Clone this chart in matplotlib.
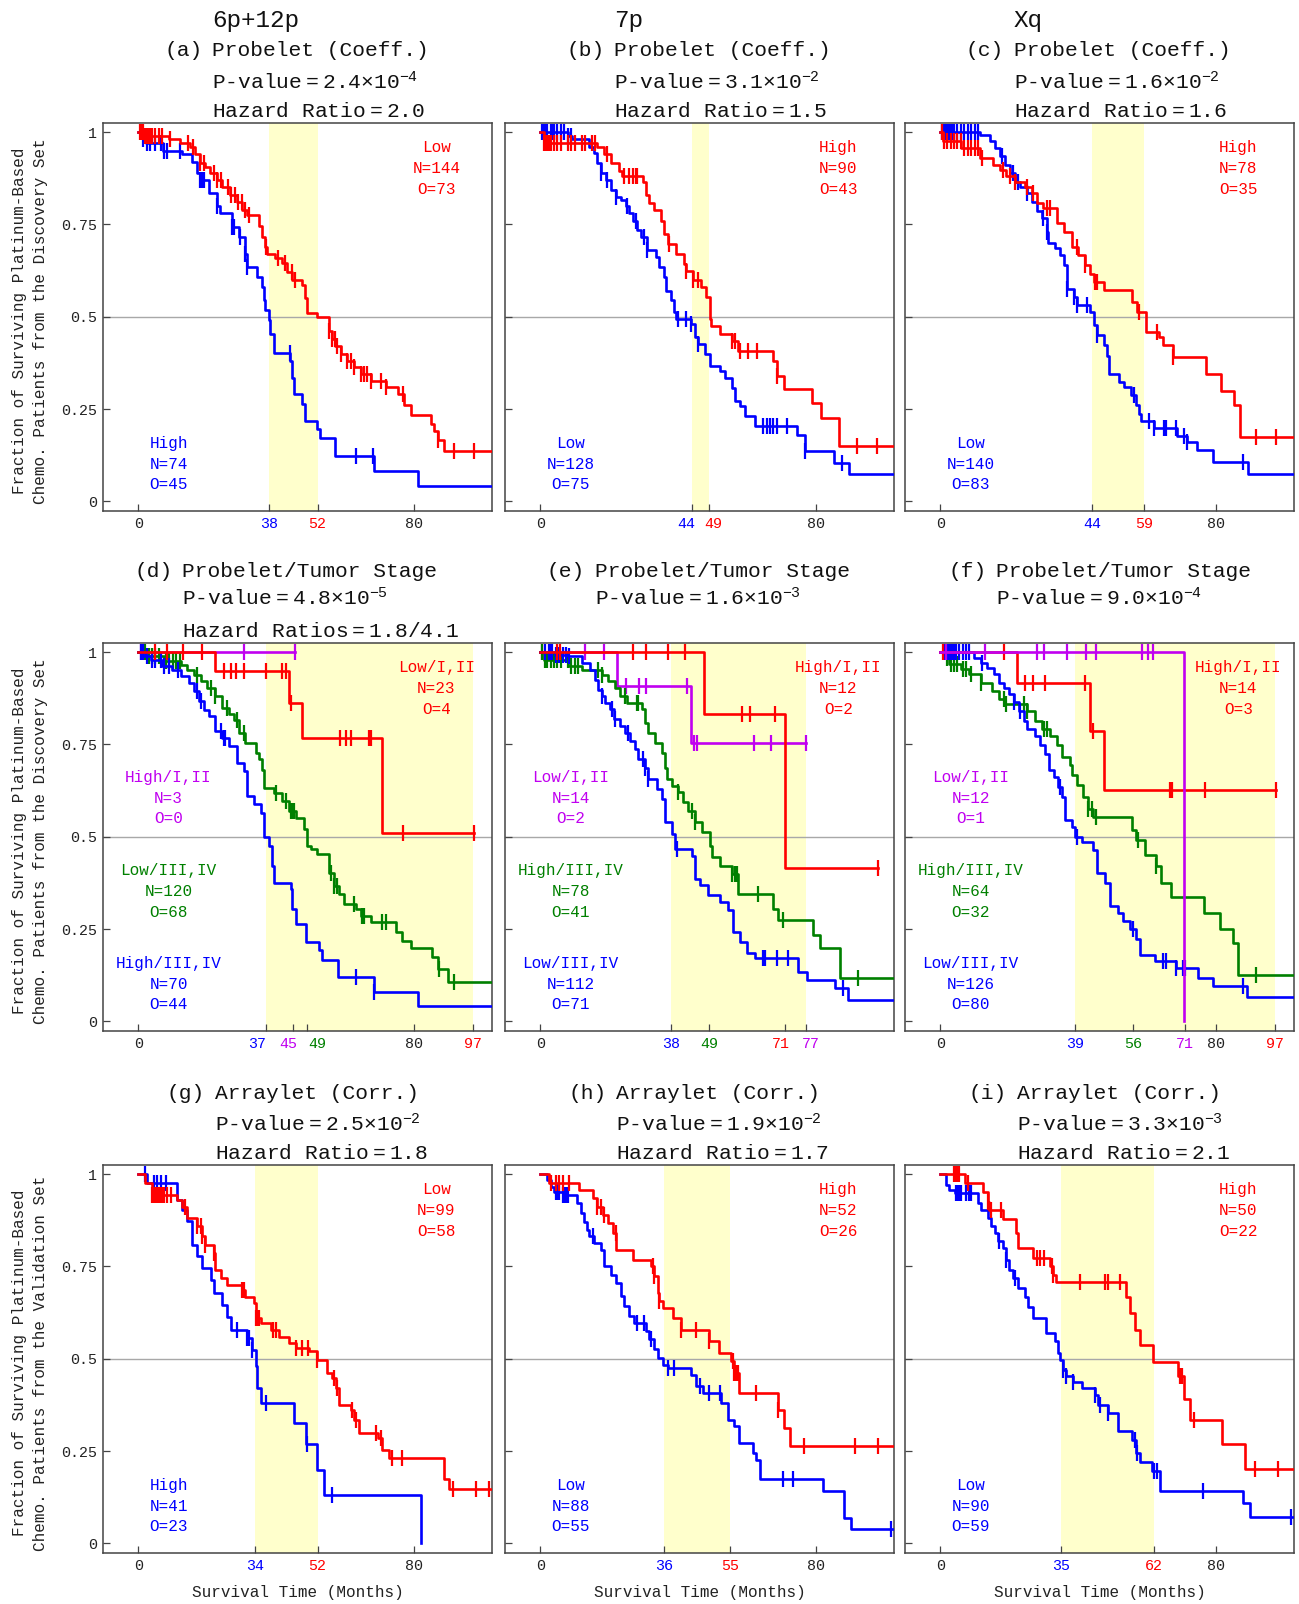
import numpy as np
import matplotlib.pyplot as plt

plt.rcParams["font.family"] = ["Liberation Mono", "DejaVu Sans"]
plt.rcParams["mathtext.default"] = "regular"

W, H = 1299, 1604
RED, BLUE, GREEN, MAGENTA = "#ff0000", "#0000ff", "#008000", "#c000f0"

# ---------------- survival curves: drop times, levels after drop, censor times, end
A_LOW_T = [2, 9, 12.1, 15.0, 16.5, 17.9, 19.4, 20.8, 22.8, 24.2, 26.7, 28.6, 30.1, 31.5, 34.9, 35.9, 36.8, 37.3,
           39.8, 41.7, 43.2, 44.6, 47.5, 48.5, 49.0, 51.9, 55.3, 56.2, 57.2, 58.7, 60.6, 62.5, 64.5, 67.4, 71.8,
           75.2, 77.1, 79.0, 84.8, 85.8, 86.8, 88.7]
A_LOW_S = [0.99, 0.98, 0.97, 0.96, 0.94, 0.915, 0.905, 0.89, 0.87, 0.85, 0.83, 0.81, 0.79, 0.775, 0.745, 0.715,
           0.69, 0.67, 0.66, 0.645, 0.62, 0.60, 0.585, 0.55, 0.51, 0.50, 0.46, 0.44, 0.42, 0.40, 0.38, 0.365,
           0.345, 0.325, 0.31, 0.29, 0.26, 0.235, 0.21, 0.19, 0.165, 0.136]
A_LOW_C = [0.5, 1, 1.5, 2, 2.5, 3, 3.5, 4, 5, 6, 7, 9.2, 14.5, 16, 18, 19, 22, 23, 24, 26, 27, 28, 29, 30, 31, 32,
           37, 40.5, 42.5, 44.5, 45.5, 55.3, 56.2, 57, 57.7, 58.7, 60.6, 61.6, 62.5, 64.5, 65.5, 66.4, 67.4,
           70.3, 71.8, 76.7, 86.8, 91.6, 97.4]
A_HIGH_T = [1.5, 2.4, 7.3, 12.6, 15.5, 17.0, 18.0, 20.4, 22.8, 23.8, 27.2, 29.1, 31.0, 31.5, 34.4, 35.9, 36.4,
            36.8, 37.8, 38.3, 39.3, 44.1, 44.6, 45.1, 47.5, 48.5, 51.9, 52.8, 57.2, 68.4, 81.0]
A_HIGH_S = [0.98, 0.97, 0.95, 0.94, 0.92, 0.89, 0.87, 0.835, 0.80, 0.78, 0.743, 0.716, 0.67, 0.635, 0.607, 0.58,
            0.544, 0.517, 0.49, 0.453, 0.403, 0.38, 0.335, 0.29, 0.263, 0.218, 0.195, 0.172, 0.122, 0.082, 0.041]
A_HIGH_C = [1.5, 2.5, 3.5, 5, 6.5, 7.5, 8.5, 12, 18, 18.5, 19, 22.8, 27.2, 27.7, 29.6, 31, 31.5, 44, 63.1, 68.2]

B_HIGH_T = [1, 16.5, 18.5, 20.4, 22.9, 23.8, 29.7, 30.7, 31.6, 33.1, 35.0, 36.0, 37.0, 39.4, 41.8, 42.3, 44.3,
            46.7, 48.2, 49.2, 49.6, 52.1, 55.5, 57.4, 67.6, 68.6, 70.6, 78.8, 81.3, 86.6]
B_HIGH_S = [0.97, 0.96, 0.94, 0.915, 0.895, 0.88, 0.865, 0.83, 0.807, 0.79, 0.76, 0.725, 0.698, 0.67, 0.644,
            0.625, 0.60, 0.58, 0.553, 0.494, 0.476, 0.453, 0.435, 0.408, 0.38, 0.34, 0.304, 0.267, 0.227, 0.15]
B_HIGH_C = [1, 1.5, 2, 2.5, 3, 4, 5, 6, 8, 9, 10, 12, 13, 15, 16, 19.3, 24.3, 25.8, 26.8, 27.7, 28.2, 37.5,
            42.3, 44.3, 45.7, 55.5, 56.4, 57.9, 60.4, 62.8, 68.6, 92, 97.8]
B_LOW_T = [8, 9.2, 14.1, 15.6, 16.5, 17.5, 19.0, 20.4, 21.9, 23.4, 24.8, 25.8, 26.8, 28.2, 29.2, 31.1, 33.6,
           34.5, 36.0, 36.5, 37.9, 38.9, 39.4, 43.8, 44.8, 45.7, 47.7, 49.1, 52.1, 53.5, 55.5, 56.4, 57.9, 59.4,
           62.3, 74.5, 76.9, 85.2, 89.5]
B_LOW_S = [0.99, 0.98, 0.96, 0.943, 0.915, 0.89, 0.87, 0.843, 0.825, 0.816, 0.80, 0.78, 0.76, 0.734, 0.716,
           0.68, 0.662, 0.635, 0.607, 0.57, 0.544, 0.512, 0.494, 0.48, 0.444, 0.426, 0.40, 0.367, 0.354, 0.335,
           0.308, 0.272, 0.258, 0.231, 0.204, 0.181, 0.136, 0.104, 0.073]
B_LOW_C = [0.5, 1, 1.5, 2, 3, 3.5, 4, 5, 6, 7, 8, 9, 17.5, 19.5, 21.9, 25.3, 27.7, 30.2, 31.1, 39.9, 42.3,
           43.8, 45.7, 64.7, 65.7, 66.7, 67.6, 68.6, 71.5, 76.9, 87.6]

C_HIGH_T = [0.8, 6.1, 11.5, 15.4, 17.3, 19.2, 21.7, 24.6, 26.5, 28.0, 29.9, 33.8, 35.8, 38.2, 40.1, 42.1, 43.5,
            44.5, 47.4, 55.7, 57.1, 59.6, 63.5, 64.5, 67.4, 77.1, 81.4, 85.3, 86.8]
C_HIGH_S = [0.975, 0.957, 0.93, 0.911, 0.897, 0.88, 0.866, 0.852, 0.834, 0.807, 0.794, 0.753, 0.73, 0.69, 0.667,
            0.64, 0.617, 0.595, 0.572, 0.54, 0.513, 0.459, 0.445, 0.423, 0.391, 0.346, 0.30, 0.26, 0.174]
C_HIGH_C = [0.5, 1, 2, 3, 4, 5, 6, 7, 8, 9, 10, 11, 12, 18.3, 20.2, 21.7, 25.1, 27, 30.9, 31.9, 39.6, 42.1, 45,
            45.5, 57.6, 63, 67.4, 91.6, 97.5]
C_LOW_T = [11.5, 14.4, 15.8, 17.3, 18.8, 20.2, 21.7, 23.1, 25.1, 26.5, 28.0, 29.4, 30.9, 31.4, 33.3, 34.8, 35.8,
           36.7, 38.7, 39.6, 43.5, 44.5, 45.5, 47.4, 48.4, 48.9, 51.8, 53.3, 55.2, 56.7, 57.6, 58.1, 62.0, 68.8,
           71.7, 74.6, 79.0, 89.2]
C_LOW_S = [0.993, 0.975, 0.957, 0.934, 0.911, 0.889, 0.866, 0.852, 0.834, 0.81, 0.785, 0.767, 0.73, 0.70, 0.685,
           0.667, 0.64, 0.576, 0.554, 0.531, 0.513, 0.477, 0.45, 0.423, 0.395, 0.346, 0.323, 0.31, 0.287, 0.26,
           0.237, 0.219, 0.20, 0.178, 0.16, 0.138, 0.106, 0.074]
C_LOW_C = [0.5, 1, 1.5, 2, 2.5, 3, 3.5, 4, 5, 6, 7, 8, 9, 10, 11, 17.8, 21.2, 22.6, 25.1, 29.9, 30.9, 36.7, 38.7,
           39.6, 42.6, 45.5, 56.2, 60.6, 62, 64.9, 65.4, 68.3, 70.7, 71.7, 87.8]

D_LO12_T = [22.4, 43.7, 47.6, 70.8]
D_LO12_S = [0.948, 0.862, 0.766, 0.511]
D_LO12_C = [5, 8.5, 13, 18.6, 24.9, 26.8, 28.3, 30.7, 37, 41.8, 42.8, 44.4, 58.5, 60.2, 61.6, 66.9, 67.6, 76.9, 97.4]
D_HI12_T = []
D_HI12_S = []
D_HI12_C = [0.7, 30.7, 45.5]
D_LO34_T = [2.6, 7.4, 12.3, 14.2, 16.2, 18.1, 20.0, 22.4, 24.4, 26.3, 27.8, 29.2, 31.1, 34.1, 35.0, 36.0, 36.5,
            39.4, 41.8, 43.7, 45.7, 48.1, 49.0, 50.0, 51.9, 55.3, 56.8, 58.2, 59.7, 63.1, 64.5, 67.4, 74.7, 76.6,
            79.0, 85.3, 86.8, 89.7]
D_LO34_S = [0.988, 0.975, 0.966, 0.952, 0.939, 0.921, 0.903, 0.88, 0.849, 0.831, 0.817, 0.781, 0.754, 0.727,
            0.71, 0.682, 0.633, 0.619, 0.597, 0.57, 0.552, 0.52, 0.475, 0.466, 0.453, 0.403, 0.367, 0.345, 0.318,
            0.304, 0.286, 0.268, 0.241, 0.219, 0.20, 0.174, 0.142, 0.106]
D_LO34_C = [1, 2, 3, 4, 5, 6, 8, 9, 10, 11, 12, 17.1, 21, 22.4, 25.8, 28.7, 30.7, 39.9, 42.8, 44.2, 44.7, 45.2,
            55.8, 56.8, 57.7, 62.6, 65, 65.5, 70.8, 71.8, 87.3, 91.6]
D_HI34_T = [1.6, 3.6, 7.0, 9.9, 12.3, 14.7, 16.2, 17.6, 19.1, 20.5, 22.4, 24.4, 26.3, 28.7, 30.7, 31.6, 33.6,
            35.5, 36.5, 37.9, 38.9, 39.4, 44.2, 44.7, 45.7, 48.6, 52.4, 53.4, 57.8, 68.4, 81.0]
D_HI34_S = [0.988, 0.979, 0.961, 0.952, 0.934, 0.916, 0.894, 0.867, 0.844, 0.826, 0.786, 0.768, 0.745, 0.70,
            0.678, 0.61, 0.588, 0.565, 0.498, 0.475, 0.421, 0.376, 0.358, 0.304, 0.264, 0.214, 0.192, 0.165,
            0.12, 0.079, 0.041]
D_HI34_C = [0.7, 1.5, 2.5, 4, 5, 6.5, 7.5, 9, 11.5, 17.1, 18.1, 23.9, 24.8, 25.3, 63.1, 68.4]

E_HI12_T = [47.6, 71.0]
E_HI12_S = [0.831, 0.416]
E_HI12_C = [4.8, 5.8, 27, 30.7, 37.2, 42, 58.6, 60.9, 68.1, 97.9]
E_LO12_T = [22.2, 43.8]
E_LO12_S = [0.907, 0.755]
E_LO12_C = [0.5, 13, 18.5, 24.8, 28.7, 30.7, 42.7, 44.6, 45.4, 62.1, 67, 77.1]
E_HI34_T = [1.0, 8.2, 12.1, 17.9, 19.8, 21.7, 23.2, 25.1, 29.5, 30.4, 31.4, 33.3, 35.3, 36.2, 36.7, 38.2, 40.1,
            41.5, 43.0, 44.9, 46.9, 49.3, 49.8, 52.2, 55.6, 57.5, 67.6, 69.1, 79.2, 81.2, 87.0]
E_HI34_S = [0.979, 0.961, 0.952, 0.939, 0.921, 0.903, 0.881, 0.863, 0.845, 0.809, 0.782, 0.755, 0.728, 0.687,
            0.656, 0.638, 0.62, 0.593, 0.57, 0.539, 0.512, 0.476, 0.445, 0.422, 0.40, 0.346, 0.305, 0.274, 0.234,
            0.198, 0.117]
E_HI34_C = [0.5, 1.5, 2, 3, 4, 5, 6, 8, 9, 10, 11, 16.9, 17.9, 24.6, 28, 28.5, 40.1, 44, 44.9, 55.6, 56.5, 57,
            63.3, 70.5, 92.1]
E_LO34_T = [4.3, 8.2, 12.1, 14.5, 15.9, 16.9, 17.9, 18.8, 20.3, 21.3, 23.2, 24.6, 26.1, 27.5, 28.5, 30.4, 31.4,
            33.8, 35.3, 36.2, 38.2, 39.1, 43.9, 44.9, 46.4, 48.8, 52.2, 54.6, 56.0, 58.0, 59.9, 62.3, 74.9, 77.3,
            85.5, 89.4]
E_LO34_S = [0.993, 0.988, 0.97, 0.952, 0.925, 0.898, 0.88, 0.863, 0.845, 0.818, 0.80, 0.782, 0.76, 0.737, 0.71,
            0.687, 0.656, 0.629, 0.602, 0.539, 0.508, 0.467, 0.449, 0.386, 0.368, 0.341, 0.323, 0.301, 0.243,
            0.216, 0.184, 0.171, 0.135, 0.112, 0.09, 0.058]
E_LO34_C = [1.5, 2.5, 3, 3.5, 4.5, 5.5, 6.5, 7.5, 8.5, 17.9, 20.8, 21.8, 25.6, 29.9, 30.4, 31.4, 39.6, 64.7, 65.2,
            68.6, 72, 87.9]

F_LO12_T = [70.6]
F_LO12_S = [0.0]
F_LO12_C = [1.6, 13, 28.1, 30, 36.9, 42.3, 45.2, 58.4, 60.3, 61.7]
F_HI12_T = [22.3, 43.5, 47.5]
F_HI12_S = [0.917, 0.787, 0.627]
F_HI12_C = [0.7, 18.5, 24.7, 26.8, 30.5, 42, 44.2, 66.5, 67.3, 76.7, 97.3]
F_HI34_T = [1.2, 2.6, 6.0, 8.4, 11.7, 15.1, 17.0, 18.9, 25.2, 27.6, 29.5, 31.9, 33.8, 35.3, 37.7, 38.2, 39.6,
            41.5, 43.0, 44.4, 55.5, 56.9, 59.3, 62.7, 64.1, 67.0, 76.6, 81.0, 84.8, 86.3]
F_HI34_S = [0.985, 0.967, 0.953, 0.94, 0.917, 0.895, 0.873, 0.859, 0.841, 0.814, 0.792, 0.774, 0.747, 0.715,
            0.693, 0.666, 0.639, 0.607, 0.576, 0.554, 0.518, 0.492, 0.451, 0.42, 0.375, 0.337, 0.294, 0.251,
            0.211, 0.125]
F_HI34_C = [1, 2, 3, 4, 5, 6.5, 7.5, 9, 11.7, 18.5, 19, 24.2, 25.2, 30, 31, 43, 44, 45.2, 57.4, 62.7, 91.5]
F_LO34_T = [9.8, 11.7, 13.7, 15.6, 17.0, 18.5, 19.9, 21.3, 22.8, 24.2, 25.2, 27.6, 29.0, 30.5, 31.5, 32.9, 34.3,
            35.3, 36.3, 38.2, 39.1, 41.1, 44.4, 45.4, 47.8, 49.2, 51.6, 53.0, 55.0, 56.9, 57.9, 62.2, 68.5, 74.7,
            79.0, 89.1]
F_LO34_S = [0.985, 0.971, 0.958, 0.94, 0.917, 0.904, 0.886, 0.864, 0.841, 0.814, 0.792, 0.774, 0.747, 0.724,
            0.68, 0.662, 0.635, 0.608, 0.545, 0.527, 0.50, 0.487, 0.464, 0.402, 0.375, 0.312, 0.294, 0.271, 0.249,
            0.222, 0.181, 0.163, 0.145, 0.118, 0.096, 0.065]
F_LO34_C = [1, 2, 2.5, 3, 3.5, 4, 4.5, 5.5, 6.5, 7.5, 8.5, 12.2, 21.3, 23.2, 34.8, 39.6, 56, 64.6, 65.5, 68.5,
            70.4, 70.9, 87.7]

G_LOW_T = [2.1, 4.1, 11.3, 12.8, 14.2, 17.1, 18.6, 19.5, 21.9, 22.4, 23.9, 25.8, 30.2, 31.1, 33.6, 34.1, 35.5,
           38.4, 40.8, 43.7, 45.7, 49.5, 51.9, 54.8, 56.3, 57.3, 58.2, 61.6, 62.6, 64.1, 69.4, 70.8, 72.7, 88.7,
           90.2]
G_LOW_S = [0.975, 0.943, 0.93, 0.912, 0.88, 0.858, 0.831, 0.808, 0.786, 0.741, 0.719, 0.70, 0.686, 0.668, 0.65,
           0.61, 0.596, 0.578, 0.56, 0.542, 0.529, 0.52, 0.497, 0.461, 0.448, 0.42, 0.375, 0.362, 0.335, 0.299,
           0.286, 0.254, 0.232, 0.173, 0.146]
G_LOW_C = [4.1, 4.6, 5, 5.5, 6, 6.5, 7, 7.5, 8.5, 9.4, 13.7, 17.1, 18.1, 18.6, 19.5, 21.9, 30.2, 30.7, 34.1, 34.6,
           35.1, 39, 40, 45.7, 47.6, 49.1, 51.9, 56.8, 57.7, 62.1, 63.1, 68.9, 70.3, 73.7, 76.6, 91.2, 97.9, 101.8]
G_HIGH_T = [2.6, 11.3, 12.8, 14.2, 15.7, 17.1, 18.6, 21.0, 21.9, 24.4, 25.8, 26.8, 31.6, 33.1, 34.1, 34.5, 35.5,
            45.2, 48.6, 51.9, 53.9, 81.9]
G_HIGH_S = [0.975, 0.93, 0.903, 0.872, 0.808, 0.777, 0.745, 0.714, 0.677, 0.645, 0.614, 0.577, 0.555, 0.524,
            0.48, 0.42, 0.38, 0.326, 0.268, 0.20, 0.13, 0.0]
G_HIGH_C = [2.1, 4.6, 5.5, 6.5, 8.2, 28.7, 31.6, 32.1, 33.1, 37, 49, 56.1]

H_HIGH_T = [2.6, 11.3, 15.2, 16.6, 18.1, 19.6, 21.0, 22.0, 26.8, 32.1, 33.1, 34.1, 34.5, 35.5, 38.4, 40.8, 49.0,
            51.9, 55.3, 56.3, 57.7, 68.9, 70.8, 72.3]
H_HIGH_S = [0.977, 0.957, 0.934, 0.912, 0.889, 0.867, 0.84, 0.795, 0.768, 0.75, 0.723, 0.677, 0.655, 0.637,
            0.61, 0.578, 0.547, 0.515, 0.493, 0.461, 0.407, 0.362, 0.313, 0.263]
H_HIGH_C = [3, 4.5, 5.5, 6.5, 8.5, 16.6, 17.6, 18.6, 21.9, 32.6, 33.1, 34.5, 40.8, 45.2, 49, 55.8, 56.3, 56.8,
            57.3, 62.6, 68.9, 76.6, 91.4, 97.9]
H_LOW_T = [2.1, 3.1, 4.1, 6.5, 10.8, 11.8, 12.8, 13.7, 14.2, 15.7, 17.6, 18.6, 20.5, 22.0, 23.4, 24.4, 25.8,
           27.3, 30.7, 31.7, 33.1, 34.1, 35.5, 37.0, 43.7, 45.2, 47.1, 52.4, 54.4, 56.3, 57.7, 61.6, 62.6, 63.6,
           81.9, 88.2, 90.2]
H_LOW_S = [0.984, 0.966, 0.952, 0.943, 0.921, 0.894, 0.871, 0.849, 0.831, 0.813, 0.795, 0.75, 0.727, 0.705,
           0.669, 0.643, 0.616, 0.598, 0.575, 0.553, 0.526, 0.503, 0.484, 0.475, 0.457, 0.425, 0.407, 0.38,
           0.335, 0.317, 0.272, 0.245, 0.227, 0.175, 0.141, 0.069, 0.038]
H_LOW_C = [4.5, 5, 5.5, 6.5, 7, 7.5, 8.2, 15.2, 28.2, 30.2, 32.1, 37, 38.9, 46.2, 49, 52, 70.3, 73.2, 101.6]

I_HIGH_T = [7.1, 12.4, 13.8, 14.3, 18.2, 22.1, 22.6, 26.9, 31.8, 32.8, 33.7, 54.0, 55.0, 56.5, 57.9, 61.8, 69.1,
            70.6, 72.5, 81.6, 88.4]
I_HIGH_S = [0.977, 0.952, 0.925, 0.903, 0.877, 0.84, 0.80, 0.772, 0.75, 0.727, 0.709, 0.668, 0.623, 0.578,
            0.538, 0.491, 0.452, 0.39, 0.335, 0.268, 0.202]
I_HIGH_C = [4, 4.6, 5, 5.5, 8, 13.8, 14.8, 17.7, 28, 29, 30, 32.3, 32.8, 40.5, 47.7, 48.7, 52.2, 69.6, 70.1,
            73.7, 91.3, 98.1]
I_LOW_T = [1.7, 2.7, 4.2, 10.9, 11.9, 13.9, 14.8, 15.8, 16.8, 18.2, 19.2, 20.1, 21.1, 22.6, 24.5, 25.5, 26.9,
           30.8, 33.2, 34.2, 34.7, 35.6, 36.6, 38.5, 41.0, 44.8, 45.8, 48.7, 51.6, 55.5, 56.9, 57.9, 61.3, 63.7,
           87.9, 89.9]
I_LOW_S = [0.97, 0.957, 0.948, 0.921, 0.903, 0.88, 0.858, 0.84, 0.818, 0.80, 0.768, 0.741, 0.718, 0.691, 0.668,
           0.641, 0.61, 0.569, 0.547, 0.515, 0.497, 0.47, 0.452, 0.438, 0.42, 0.402, 0.375, 0.353, 0.303, 0.281,
           0.245, 0.22, 0.195, 0.141, 0.11, 0.071]
I_LOW_C = [4.5, 5, 5.5, 6, 7.5, 8.5, 9, 17.2, 19.2, 21.6, 35.6, 36.6, 38.5, 44.8, 46.3, 48.7, 56.5, 57, 62, 63,
           76.3, 101.7]

# ---------------- panel texts and marks
HEADERS = ["6p+12p", "7p", "Xq"]
LABELS = ["(a)", "(b)", "(c)", "(d)", "(e)", "(f)", "(g)", "(h)", "(i)"]
TITLES = ["Probelet (Coeff.)"] * 3 + ["Probelet/Tumor Stage"] * 3 + ["Arraylet (Corr.)"] * 3
P_MANT = ["2.4", "3.1", "1.6", "4.8", "1.6", "9.0", "2.5", "1.9", "3.3"]
P_EXP = ["-4", "-2", "-2", "-5", "-3", "-4", "-2", "-2", "-3"]
HAZARD = ["Hazard Ratio$=$2.0", "Hazard Ratio$=$1.5", "Hazard Ratio$=$1.6", "Hazard Ratios$=$1.8/4.1", None, None,
          "Hazard Ratio$=$1.8", "Hazard Ratio$=$1.7", "Hazard Ratio$=$2.1"]
SPANS = [(38, 52), (44, 49), (44, 59), (37, 97), (38, 77), (39, 97), (34, 52), (36, 55), (35, 62)]
XTICKS = [[0, 38, 52, 80], [0, 44, 49, 80], [0, 44, 59, 80],
          [0, 37, 45, 49, 80, 97], [0, 38, 49, 71, 77], [0, 39, 56, 71, 80, 97],
          [0, 34, 52, 80], [0, 36, 55, 80], [0, 35, 62, 80]]
# horizontal nudge of crowded tick labels (pixels)
XTICK_NUDGE = [[0, 0, 0, 0], [0, -6, 4, 0], [0, 0, 0, 0],
               [0, -9, -5, 10, 0, 0], [0, 0, 0, -4, 5], [0, 0, 0, 0, 0, 0],
               [0, 0, 0, 0], [0, 0, 0, 0], [0, 0, 0, 0]]
K = "#222222"
XTICK_COLORS = [[K, BLUE, RED, K], [K, BLUE, RED, K], [K, BLUE, RED, K],
                [K, BLUE, MAGENTA, GREEN, K, RED], [K, BLUE, GREEN, RED, MAGENTA], [K, BLUE, GREEN, MAGENTA, K, RED],
                [K, BLUE, RED, K], [K, BLUE, RED, K], [K, BLUE, RED, K]]

# curves per panel: (times, levels, censors, end, colour)
CURVES = [
    [(A_HIGH_T, A_HIGH_S, A_HIGH_C, 102.6, BLUE), (A_LOW_T, A_LOW_S, A_LOW_C, 102.6, RED)],
    [(B_LOW_T, B_LOW_S, B_LOW_C, 102.6, BLUE), (B_HIGH_T, B_HIGH_S, B_HIGH_C, 102.6, RED)],
    [(C_LOW_T, C_LOW_S, C_LOW_C, 102.6, BLUE), (C_HIGH_T, C_HIGH_S, C_HIGH_C, 102.6, RED)],
    [(D_HI12_T, D_HI12_S, D_HI12_C, 45.5, MAGENTA), (D_LO34_T, D_LO34_S, D_LO34_C, 102.6, GREEN),
     (D_HI34_T, D_HI34_S, D_HI34_C, 102.6, BLUE), (D_LO12_T, D_LO12_S, D_LO12_C, 97.4, RED)],
    [(E_LO12_T, E_LO12_S, E_LO12_C, 77.1, MAGENTA), (E_HI34_T, E_HI34_S, E_HI34_C, 102.6, GREEN),
     (E_LO34_T, E_LO34_S, E_LO34_C, 102.6, BLUE), (E_HI12_T, E_HI12_S, E_HI12_C, 97.9, RED)],
    [(F_HI34_T, F_HI34_S, F_HI34_C, 102.6, GREEN), (F_LO34_T, F_LO34_S, F_LO34_C, 102.6, BLUE),
     (F_HI12_T, F_HI12_S, F_HI12_C, 97.3, RED), (F_LO12_T, F_LO12_S, F_LO12_C, 70.6, MAGENTA)],
    [(G_HIGH_T, G_HIGH_S, G_HIGH_C, 81.9, BLUE), (G_LOW_T, G_LOW_S, G_LOW_C, 102.6, RED)],
    [(H_LOW_T, H_LOW_S, H_LOW_C, 102.6, BLUE), (H_HIGH_T, H_HIGH_S, H_HIGH_C, 102.6, RED)],
    [(I_LOW_T, I_LOW_S, I_LOW_C, 102.6, BLUE), (I_HIGH_T, I_HIGH_S, I_HIGH_C, 102.6, RED)],
]

# group annotations: (slot, group, N, O, colour)
GROUPS = [
    [("ur", "Low", 144, 73, RED), ("ll", "High", 74, 45, BLUE)],
    [("ur", "High", 90, 43, RED), ("ll", "Low", 128, 75, BLUE)],
    [("ur", "High", 78, 35, RED), ("ll", "Low", 140, 83, BLUE)],
    [("ur", "Low/I,II", 23, 4, RED), ("l1", "High/I,II", 3, 0, MAGENTA),
     ("l2", "Low/III,IV", 120, 68, GREEN), ("ll", "High/III,IV", 70, 44, BLUE)],
    [("ur", "High/I,II", 12, 2, RED), ("l1", "Low/I,II", 14, 2, MAGENTA),
     ("l2", "High/III,IV", 78, 41, GREEN), ("ll", "Low/III,IV", 112, 71, BLUE)],
    [("ur", "High/I,II", 14, 3, RED), ("l1", "Low/I,II", 12, 1, MAGENTA),
     ("l2", "High/III,IV", 64, 32, GREEN), ("ll", "Low/III,IV", 126, 80, BLUE)],
    [("ur", "Low", 99, 58, RED), ("ll", "High", 41, 23, BLUE)],
    [("ur", "High", 52, 26, RED), ("ll", "Low", 88, 55, BLUE)],
    [("ur", "High", 50, 22, RED), ("ll", "Low", 90, 59, BLUE)],
]
SLOTS = {"ur": (86.5, 0.957), "l1": (8.8, 0.660), "l2": (8.8, 0.408), "ll": (8.8, 0.157)}

# layout in pixels
COL_LEFT = [103, 505, 905]
ROW_TOP = [123, 643, 1165]
AX_W, AX_H = 389, 388
LABEL_DX = [[61, 61, 61], [31, 42, 43], [64, 63, 64]]
TEXT_Y = [[56.5, 89.5, 117], [577, 605, 636.5], [1099, 1131.5, 1159]]


def km(ax, t, s, cens, end, color):
    xs = [0] + list(t) + [end]
    ys = [1] + list(s) + [s[-1] if len(s) else 1.0]
    ax.step(xs, ys, where="post", color=color, lw=1.9, zorder=3)
    t_arr, s_arr = np.array(t, dtype=float), np.array(s, dtype=float)
    cy = []
    for c in cens:
        i = np.searchsorted(t_arr, c, side="right") - 1
        cy.append(s_arr[i] if i >= 0 else 1.0)
    ax.plot(cens, cy, ls="none", marker="|", ms=11, mew=1.6, color=color, zorder=3)


def ftext(x, y, s, **kw):
    return fig.text(x / W, 1 - y / H, s, **kw)


fig = plt.figure(figsize=(W / 100, H / 100), dpi=100)

for k in range(9):
    r, c = divmod(k, 3)
    left, top = COL_LEFT[c], ROW_TOP[r]
    ax = fig.add_axes([left / W, 1 - (top + AX_H) / H, AX_W / W, AX_H / H])
    ax.set_xlim(-10.2, 102.6)
    ax.set_ylim(-0.026, 1.0245)
    ax.axvspan(*SPANS[k], color="#ffffcc", lw=0, zorder=0)
    ax.axhline(0.5, color="#a8a8a8", lw=1.0, zorder=1)
    for t, s, cens, end, color in CURVES[k]:
        km(ax, t, s, cens, end, color)

    for slot, grp, n, o, color in GROUPS[k]:
        x0, y0 = SLOTS[slot]
        for j, line in enumerate([grp, f"N={n}", f"O={o}"]):
            ax.text(x0, y0 - j * 0.056, line, color=color, fontsize=11.5, ha="center", va="center")

    ax.set_yticks([0, 0.25, 0.5, 0.75, 1])
    ax.set_yticklabels(["0", "0.25", "0.5", "0.75", "1"] if c == 0 else [])
    ax.set_xticks(XTICKS[k])
    ax.set_xticklabels([])
    for v, col, dx in zip(XTICKS[k], XTICK_COLORS[k], XTICK_NUDGE[k]):
        ax.annotate(str(v), xy=(v, 0), xycoords=("data", "axes fraction"), xytext=(dx, -13),
                    textcoords="offset pixels", ha="center", va="center", fontsize=10.8, color=col,
                    annotation_clip=False)
    ax.tick_params(direction="in", length=5, width=0.9, color="#444444", labelsize=10.8)
    ax.tick_params(axis="y", pad=4.5, labelcolor="#222222")
    for sp in ax.spines.values():
        sp.set_color("#444444")
        sp.set_linewidth(1.1)

    # titles above the panel
    lx = left + LABEL_DX[r][c]
    tx = lx + 48
    ty = TEXT_Y[r]
    if r == 0:
        ftext(tx, 26.5, HEADERS[c], fontsize=17.5, color="#111111", ha="left", va="baseline")
    ftext(lx, ty[0], LABELS[k], fontsize=15.3, color="#111111", ha="left", va="baseline")
    ftext(tx, ty[0], TITLES[k], fontsize=15.3, color="#111111", ha="left", va="baseline")
    ftext(tx, ty[1], f"P-value$=${P_MANT[k]}$\\times$10$^{{{P_EXP[k]}}}$", fontsize=15.3, color="#111111",
          ha="left", va="baseline")
    if HAZARD[k]:
        ftext(tx, ty[2], HAZARD[k], fontsize=15.3, color="#111111", ha="left", va="baseline")

    if r == 2:
        ftext(left + AX_W / 2, 1592, "Survival Time (Months)", fontsize=11.5, color="#222222",
              ha="center", va="center")

ylab_sets = ["Discovery Set", "Discovery Set", "Validation Set"]
for r in range(3):
    yc = ROW_TOP[r] + AX_H / 2 + 4
    ftext(19.5, yc, "Fraction of Surviving Platinum-Based", fontsize=11.5, color="#222222",
          rotation=90, ha="center", va="center")
    ftext(41, yc, "Chemo. Patients from the " + ylab_sets[r], fontsize=11.5, color="#222222",
          rotation=90, ha="center", va="center")

fig.savefig("out.png", dpi=100)
